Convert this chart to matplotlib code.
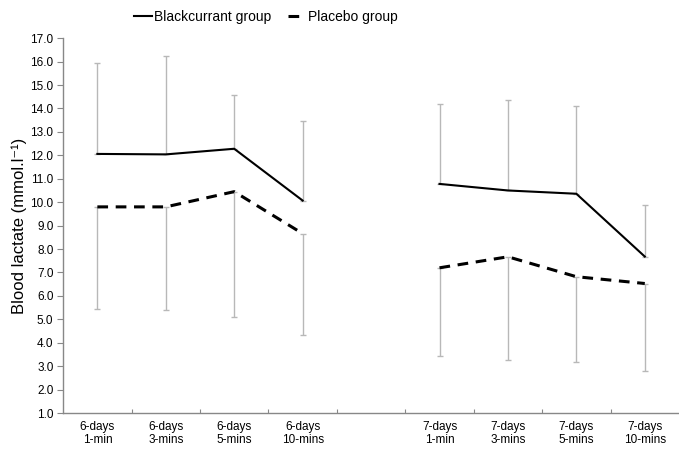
import numpy as np
import matplotlib
matplotlib.use("Agg")
import matplotlib.pyplot as plt

plt.rcParams['font.family'] = ['Liberation Sans', 'DejaVu Sans']

# categories (empty slot separates the two days)
labels = ['6-days\n1-min', '6-days\n3-mins', '6-days\n5-mins', '6-days\n10-mins', '',
          '7-days\n1-min', '7-days\n3-mins', '7-days\n5-mins', '7-days\n10-mins']

blackcurrant = [12.06, 12.04, 12.28, 10.07, np.nan, 10.78, 10.50, 10.36, 7.68]
blackcurrant_sd = [3.90, 4.22, 2.28, 3.40, np.nan, 3.39, 3.84, 3.73, 2.20]

placebo = [9.80, 9.80, 10.45, 8.66, np.nan, 7.20, 7.67, 6.82, 6.53]
placebo_sd = [4.35, 4.40, 5.35, 4.31, np.nan, 3.75, 4.41, 3.63, 3.72]


def main():
    x = np.arange(len(labels))
    bc = np.array(blackcurrant)
    pl = np.array(placebo)
    zeros = np.zeros(len(labels))

    fig = plt.figure(figsize=(6.79, 4.49), dpi=100)
    ax = fig.add_axes([0.093, 0.080, 0.907, 0.835])

    # error bars: blackcurrant upward, placebo downward
    ax.errorbar(x, bc, yerr=[zeros, np.array(blackcurrant_sd)], fmt='none',
                ecolor='#b8b8b8', elinewidth=1.0, capsize=2.5, capthick=1.0, zorder=1)
    ax.errorbar(x, pl, yerr=[np.array(placebo_sd), zeros], fmt='none',
                ecolor='#b8b8b8', elinewidth=1.0, capsize=2.5, capthick=1.0, zorder=1)

    ax.plot(x, bc, color='black', lw=1.5, label='Blackcurrant group', zorder=3)
    ax.plot(x, pl, color='black', lw=2.2, ls=(0, (3.5, 2.5)), label='Placebo group', zorder=3)

    ax.set_xlim(-0.5, 8.5)
    ax.set_ylim(1.0, 17.0)
    ax.set_yticks(np.arange(1.0, 17.01, 1.0))
    ax.set_yticklabels(['%.1f' % v for v in np.arange(1.0, 17.01, 1.0)])

    # tick marks at category boundaries, labels at centers
    ax.set_xticks(np.arange(0.5, 8.0, 1.0))
    ax.set_xticklabels([])
    ax.set_xticks(x, minor=True)
    ax.set_xticklabels(labels, minor=True, fontsize=8.5, linespacing=1.1)
    ax.tick_params(axis='x', which='minor', length=0, pad=6)
    ax.tick_params(axis='x', which='major', length=3, color='#888888', direction='in')
    ax.tick_params(axis='y', length=4, color='#888888', labelsize=8.5, pad=3)

    for s in ['top', 'right']:
        ax.spines[s].set_visible(False)
    for s in ['left', 'bottom']:
        ax.spines[s].set_color('#888888')
        ax.spines[s].set_linewidth(1.0)

    ax.set_ylabel('Blood lactate (mmol.l\u207b\u00b9)', fontsize=12)
    ax.yaxis.set_label_coords(-0.058, 0.5)

    fig.legend(loc='upper center', bbox_to_anchor=(0.392, 1.006), ncol=2, frameon=False,
               fontsize=10, handlelength=1.3, handletextpad=0.15, columnspacing=1.2)

    fig.savefig('out.png', dpi=100)
    plt.clf()


if __name__ == "__main__":
    main()
